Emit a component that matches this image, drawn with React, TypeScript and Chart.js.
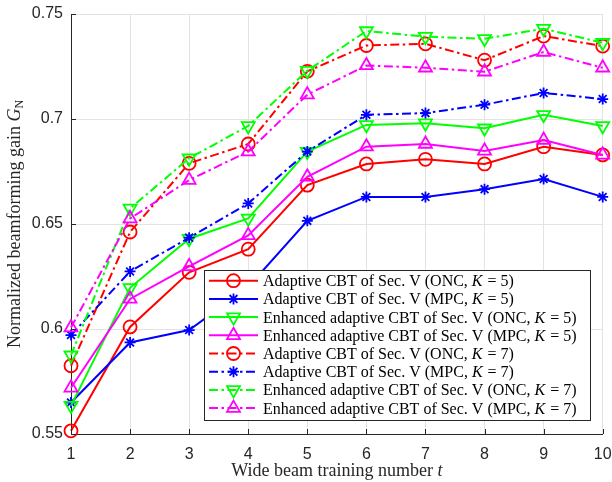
import React, { useEffect, useRef } from "react";
import { Chart, registerables } from "chart.js";

Chart.register(...registerables);

// ---------------- data ----------------
const xValues = [1, 2, 3, 4, 5, 6, 7, 8, 9, 10];

const adaptiveOncK5 = [0.5515, 0.601, 0.627, 0.638, 0.6685, 0.6786, 0.6808, 0.6786, 0.6868, 0.6829];
const adaptiveMpcK5 = [0.565, 0.5936, 0.5995, 0.62, 0.6515, 0.6629, 0.6629, 0.6666, 0.6714, 0.6629];
const enhancedOncK5 = [0.5635, 0.6196, 0.643, 0.6527, 0.6845, 0.6972, 0.698, 0.6956, 0.702, 0.6967];
const enhancedMpcK5 = [0.572, 0.6143, 0.6298, 0.6446, 0.6725, 0.6868, 0.6881, 0.6848, 0.69, 0.6829];
const adaptiveOncK7 = [0.5825, 0.6462, 0.6789, 0.6881, 0.7227, 0.735, 0.7358, 0.728, 0.7395, 0.7347];
const adaptiveMpcK7 = [0.5971, 0.6274, 0.6435, 0.6598, 0.6845, 0.702, 0.7028, 0.7068, 0.7124, 0.7095];
const enhancedOncK7 = [0.5875, 0.6574, 0.6813, 0.6967, 0.723, 0.7419, 0.7392, 0.7382, 0.743, 0.7363];
const enhancedMpcK7 = [0.6007, 0.6526, 0.6709, 0.6845, 0.7116, 0.7255, 0.7244, 0.7225, 0.7319, 0.7244];

const seriesValues = [
  adaptiveOncK5, adaptiveMpcK5, enhancedOncK5, enhancedMpcK5,
  adaptiveOncK7, adaptiveMpcK7, enhancedOncK7, enhancedMpcK7,
];
const seriesPrefixes = [
  "Adaptive CBT of Sec. V (ONC, ",
  "Adaptive CBT of Sec. V (MPC, ",
  "Enhanced adaptive CBT of Sec. V (ONC, ",
  "Enhanced adaptive CBT of Sec. V (MPC, ",
  "Adaptive CBT of Sec. V (ONC, ",
  "Adaptive CBT of Sec. V (MPC, ",
  "Enhanced adaptive CBT of Sec. V (ONC, ",
  "Enhanced adaptive CBT of Sec. V (MPC, ",
];
const seriesK = [5, 5, 5, 5, 7, 7, 7, 7];

const yTicks = [0.55, 0.6, 0.65, 0.7, 0.75];
const xTitle = "Wide beam training number ";
const xTitleVar = "t";
const yTitle = "Normalized beamforming gain ";
const yTitleVar = "G";
const yTitleSub = "N";

// ---------------- styles ----------------
const colors = ["#ff0000", "#0000ff", "#00ff00", "#ff00ff", "#ff0000", "#0000ff", "#00ff00", "#ff00ff"];
const markers = ["circle", "star", "tridown", "triup", "circle", "star", "tridown", "triup"];
const dashed = [false, false, false, false, true, true, true, true];
const DASH = [9, 3.5, 2.5, 3.5];
const SERIF = '"Liberation Serif", "Times New Roman", serif';
const SANS = '"Liberation Sans", Arial, sans-serif';
const AXIS = "#262626";
const TITLE_SIZE = 18;

function markerStyle(m: string) {
  if (m === "circle") return { pointStyle: "circle", pointRotation: 0, pointRadius: 6.5 };
  if (m === "star") return { pointStyle: "star", pointRotation: 0, pointRadius: 5.5 };
  if (m === "tridown") return { pointStyle: "triangle", pointRotation: 180, pointRadius: 7.5 };
  return { pointStyle: "triangle", pointRotation: 0, pointRadius: 7.5 };
}

function drawMarker(ctx: CanvasRenderingContext2D, m: string, x: number, y: number, color: string) {
  ctx.save();
  ctx.setLineDash([]);
  ctx.strokeStyle = color;
  ctx.lineWidth = 1.8;
  ctx.beginPath();
  if (m === "circle") {
    ctx.arc(x, y, 6.5, 0, Math.PI * 2);
  } else if (m === "star") {
    const r = 5.5;
    for (let k = 0; k < 4; k++) {
      const a = (k * Math.PI) / 4;
      ctx.moveTo(x - Math.cos(a) * r, y - Math.sin(a) * r);
      ctx.lineTo(x + Math.cos(a) * r, y + Math.sin(a) * r);
    }
  } else {
    const r = 7.5;
    const rot = m === "tridown" ? Math.PI : 0;
    for (let k = 0; k < 3; k++) {
      const a = rot + (k * 2 * Math.PI) / 3;
      const px = x + Math.sin(a) * r;
      const py = y - Math.cos(a) * r;
      if (k === 0) ctx.moveTo(px, py);
      else ctx.lineTo(px, py);
    }
    ctx.closePath();
  }
  ctx.stroke();
  ctx.restore();
}

const overlayPlugin = {
  id: "overlay",
  afterDatasetsDraw(chart: any) {
    const { ctx, chartArea, scales } = chart;
    const xs = scales.x;
    const ys = scales.y;
    ctx.save();
    // inner ticks
    ctx.strokeStyle = AXIS;
    ctx.lineWidth = 1;
    ctx.setLineDash([]);
    ctx.beginPath();
    for (const v of yTicks) {
      const py = Math.round(ys.getPixelForValue(v)) + 0.5;
      ctx.moveTo(chartArea.left, py);
      ctx.lineTo(chartArea.left + 5, py);
    }
    for (const v of xValues) {
      const px = Math.round(xs.getPixelForValue(v)) + 0.5;
      ctx.moveTo(px, chartArea.bottom);
      ctx.lineTo(px, chartArea.bottom - 5);
    }
    ctx.stroke();

    // legend box
    const lx = 204.5, ly = 270.5, lw = 386, lh = 150;
    ctx.fillStyle = "#ffffff";
    ctx.fillRect(lx, ly, lw, lh);
    ctx.strokeStyle = AXIS;
    ctx.lineWidth = 1;
    ctx.strokeRect(lx, ly, lw, lh);

    const rowStart = 280.7;
    const rowStep = 18.2;
    for (let i = 0; i < seriesValues.length; i++) {
      const cy = rowStart + i * rowStep;
      ctx.save();
      ctx.strokeStyle = colors[i];
      ctx.lineWidth = 2;
      ctx.setLineDash(dashed[i] ? DASH : []);
      ctx.beginPath();
      ctx.moveTo(209, cy);
      ctx.lineTo(258, cy);
      ctx.stroke();
      ctx.restore();
      drawMarker(ctx, markers[i], 233.5, cy, colors[i]);

      ctx.fillStyle = "#000000";
      ctx.textBaseline = "alphabetic";
      ctx.textAlign = "left";
      let tx = 263;
      const by = cy + 5.5;
      ctx.font = `16px ${SERIF}`;
      ctx.fillText(seriesPrefixes[i], tx, by);
      tx += ctx.measureText(seriesPrefixes[i]).width;
      ctx.font = `italic 16px ${SERIF}`;
      ctx.fillText("K", tx, by);
      tx += ctx.measureText("K").width;
      ctx.font = `16px ${SERIF}`;
      const rest = ` = ${seriesK[i]})`;
      ctx.fillText(rest, tx + 1, by);
    }

    // x title
    ctx.fillStyle = "#262626";
    ctx.textAlign = "left";
    ctx.textBaseline = "alphabetic";
    ctx.font = `${TITLE_SIZE}px ${SERIF}`;
    const w1 = ctx.measureText(xTitle).width;
    ctx.font = `italic ${TITLE_SIZE}px ${SERIF}`;
    const w2 = ctx.measureText(xTitleVar).width;
    const cx = (chartArea.left + chartArea.right) / 2;
    const sx = cx - (w1 + w2) / 2;
    ctx.font = `${TITLE_SIZE}px ${SERIF}`;
    ctx.fillText(xTitle, sx, 476);
    ctx.font = `italic ${TITLE_SIZE}px ${SERIF}`;
    ctx.fillText(xTitleVar, sx + w1, 476);

    // y title
    ctx.save();
    const cyc = (chartArea.top + chartArea.bottom) / 2;
    ctx.translate(20, cyc);
    ctx.rotate(-Math.PI / 2);
    ctx.font = `${TITLE_SIZE}px ${SERIF}`;
    const a1 = ctx.measureText(yTitle).width;
    ctx.font = `italic ${TITLE_SIZE}px ${SERIF}`;
    const a2 = ctx.measureText(yTitleVar).width;
    ctx.font = `12px ${SERIF}`;
    const a3 = ctx.measureText(yTitleSub).width;
    let s = -(a1 + a2 + a3) / 2;
    ctx.font = `${TITLE_SIZE}px ${SERIF}`;
    ctx.fillText(yTitle, s, 0);
    s += a1;
    ctx.font = `italic ${TITLE_SIZE}px ${SERIF}`;
    ctx.fillText(yTitleVar, s, 0);
    s += a2;
    ctx.font = `12px ${SERIF}`;
    ctx.fillText(yTitleSub, s, 3);
    ctx.restore();

    ctx.restore();
  },
};

export default function App() {
  const ref = useRef<HTMLCanvasElement | null>(null);
  useEffect(() => {
    if (!ref.current) return;
    const datasets = seriesValues.map((vals, i) => ({
      label: seriesPrefixes[i] + "K = " + seriesK[i] + ")",
      data: xValues.map((x, j) => ({ x, y: vals[j] })),
      borderColor: colors[i],
      backgroundColor: "rgba(0,0,0,0)",
      borderWidth: 2,
      borderDash: dashed[i] ? DASH : [],
      pointBorderColor: colors[i],
      pointBackgroundColor: "rgba(0,0,0,0)",
      pointBorderWidth: 1.8,
      ...markerStyle(markers[i]),
      tension: 0,
      fill: false,
      clip: false,
      order: seriesValues.length - 1 - i,
    }));
    const chart = new Chart(ref.current, {
      type: "line",
      data: { datasets },
      options: {
        animation: false,
        responsive: false,
        events: [],
        layout: { padding: { left: 0, top: 14, right: 9, bottom: 0 } },
        plugins: { legend: { display: false }, tooltip: { enabled: false } },
        scales: {
          x: {
            type: "linear",
            min: 1,
            max: 10,
            afterFit: (scale: any) => {
              scale.height = 48;
              scale.paddingLeft = 0;
              scale.paddingRight = 0;
            },
            ticks: {
              stepSize: 1,
              autoSkip: false,
              maxRotation: 0,
              padding: 11,
              color: "#262626",
              font: { family: SANS, size: 16 },
              callback: (v: any) => String(v),
            },
            grid: { color: "#e3e3e3", lineWidth: 1, drawTicks: false },
            border: { display: true, color: AXIS, width: 1 },
          },
          y: {
            type: "linear",
            min: 0.55,
            max: 0.75,
            afterFit: (scale: any) => {
              scale.width = 71;
              scale.paddingTop = 0;
              scale.paddingBottom = 0;
            },
            afterBuildTicks: (scale: any) => { scale.ticks = yTicks.map((v) => ({ value: v })); },
            ticks: {
              padding: 8,
              color: "#262626",
              font: { family: SANS, size: 16 },
              callback: (v: any) => Number(v).toFixed(2).replace(/0$/, ""),
            },
            grid: { color: "#e3e3e3", lineWidth: 1, drawTicks: false },
            border: { display: true, color: AXIS, width: 1 },
          },
        },
      } as any,
      plugins: [overlayPlugin],
    });
    return () => chart.destroy();
  }, []);
  return (
    <div style={{ position: "absolute", left: 0, top: 0, width: 612, height: 482 }}>
      <canvas ref={ref} width={612} height={482} style={{ display: "block" }} />
    </div>
  );
}
